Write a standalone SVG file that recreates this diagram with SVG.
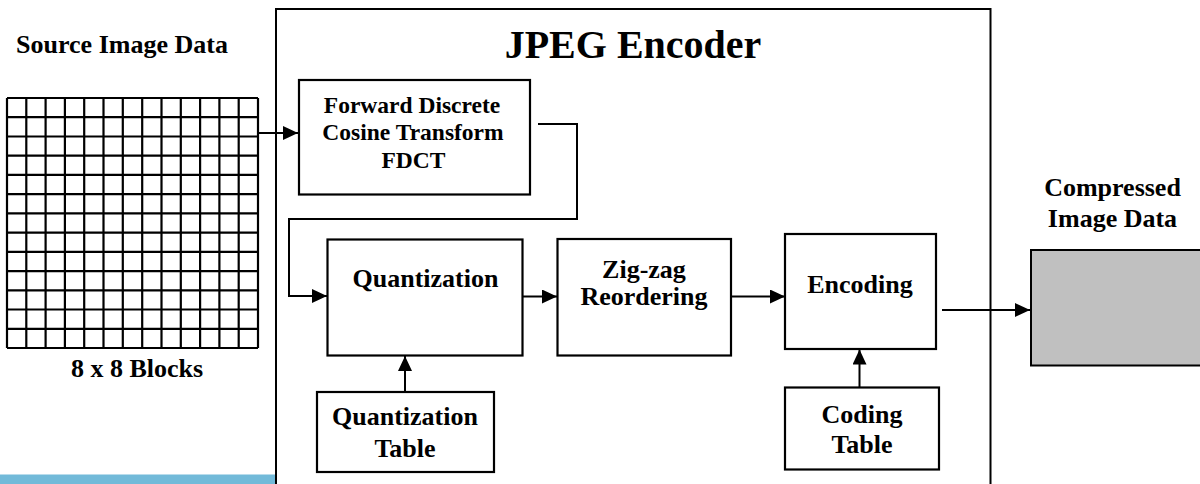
<svg xmlns="http://www.w3.org/2000/svg" width="1200" height="484" viewBox="0 0 1200 484">
  <style>
    .box { fill: #ffffff; stroke: #000000; stroke-width: 2.2; }
    .frame { fill: none; stroke: #000000; stroke-width: 2; }
    .wire { fill: none; stroke: #000000; stroke-width: 2; }
    .grid { fill: none; stroke: #000000; stroke-width: 2.2; }
    .lbl { font-family: "Liberation Serif", "Times New Roman", serif; font-weight: bold; font-size: 26px; fill: #000000; text-anchor: middle; }
    .small { font-size: 23.5px; }
    .title { font-size: 40px; }
  </style>
  <defs>
    <marker id="arrow" markerUnits="userSpaceOnUse" markerWidth="17" markerHeight="15" refX="15" refY="7" orient="auto">
      <path d="M0,0 L15,7 L0,14 z" fill="#000000"/>
    </marker>
  </defs>

  <rect x="0" y="0" width="1200" height="484" fill="#ffffff"/>

  <!-- bottom accent bar -->
  <rect x="0" y="474.5" width="276" height="10" fill="#72bad9"/>

  <!-- source side: 8x8 block grid -->
  <g id="source">
    <text class="lbl" x="122" y="53">Source Image Data</text>
    <path class="grid" d="M7,98 H258 M7,117.2 H258 M7,136.5 H258 M7,155.7 H258 M7,174.9 H258 M7,194.2 H258 M7,213.4 H258 M7,232.6 H258 M7,251.8 H258 M7,271.1 H258 M7,290.3 H258 M7,309.5 H258 M7,328.8 H258 M7,348 H258
      M7,98 V348 M26.3,98 V348 M45.6,98 V348 M64.9,98 V348 M84.2,98 V348 M103.5,98 V348 M122.8,98 V348 M142.2,98 V348 M161.5,98 V348 M180.8,98 V348 M200.1,98 V348 M219.4,98 V348 M238.7,98 V348 M258,98 V348"/>
    <text class="lbl" x="137" y="377">8 x 8 Blocks</text>
  </g>

  <!-- encoder frame -->
  <g id="encoder">
    <path class="frame" d="M276,486 V9 H990.5 V486"/>
    <text class="lbl title" x="633" y="58">JPEG Encoder</text>
  </g>

  <g id="fdct">
    <rect class="box" x="299" y="80" width="231" height="114.5"/>
    <text class="lbl small" x="412" y="112.5">Forward Discrete</text>
    <text class="lbl small" x="413" y="140">Cosine Transform</text>
    <text class="lbl small" x="413.5" y="167.5">FDCT</text>
  </g>

  <g id="quantization">
    <rect class="box" x="327.5" y="239.5" width="195" height="116"/>
    <text class="lbl" x="425.5" y="287">Quantization</text>
  </g>

  <g id="quantization-table">
    <rect class="box" x="317" y="392" width="177" height="80"/>
    <text class="lbl" x="405" y="425">Quantization</text>
    <text class="lbl" x="405" y="456.5">Table</text>
  </g>

  <g id="zigzag">
    <rect class="box" x="557.5" y="239" width="173.5" height="116.5"/>
    <text class="lbl" x="644" y="278">Zig-zag</text>
    <text class="lbl" x="644" y="305">Reordering</text>
  </g>

  <g id="encoding">
    <rect class="box" x="785" y="234" width="151" height="115"/>
    <text class="lbl" x="860" y="293">Encoding</text>
  </g>

  <g id="coding-table">
    <rect class="box" x="785" y="387.5" width="154" height="82"/>
    <text class="lbl" x="862" y="423">Coding</text>
    <text class="lbl" x="862" y="453">Table</text>
  </g>

  <g id="output">
    <text class="lbl" x="1112.5" y="196">Compressed</text>
    <text class="lbl" x="1112.5" y="226.5">Image Data</text>
    <rect x="1031" y="250" width="172" height="115.5" fill="#c0c0c0" stroke="#000000" stroke-width="2"/>
  </g>

  <!-- connectors -->
  <g id="connectors">
    <path class="wire" d="M258,133 H298" marker-end="url(#arrow)"/>
    <path class="wire" d="M538,124 H577 V219 H289 V296 H327" marker-end="url(#arrow)"/>
    <path class="wire" d="M522.5,296.5 H557" marker-end="url(#arrow)"/>
    <path class="wire" d="M731,296.5 H785" marker-end="url(#arrow)"/>
    <path class="wire" d="M405,392 V356" marker-end="url(#arrow)"/>
    <path class="wire" d="M859.5,387.5 V349.5" marker-end="url(#arrow)"/>
    <path class="wire" d="M942,310 H1030" marker-end="url(#arrow)"/>
  </g>
</svg>
